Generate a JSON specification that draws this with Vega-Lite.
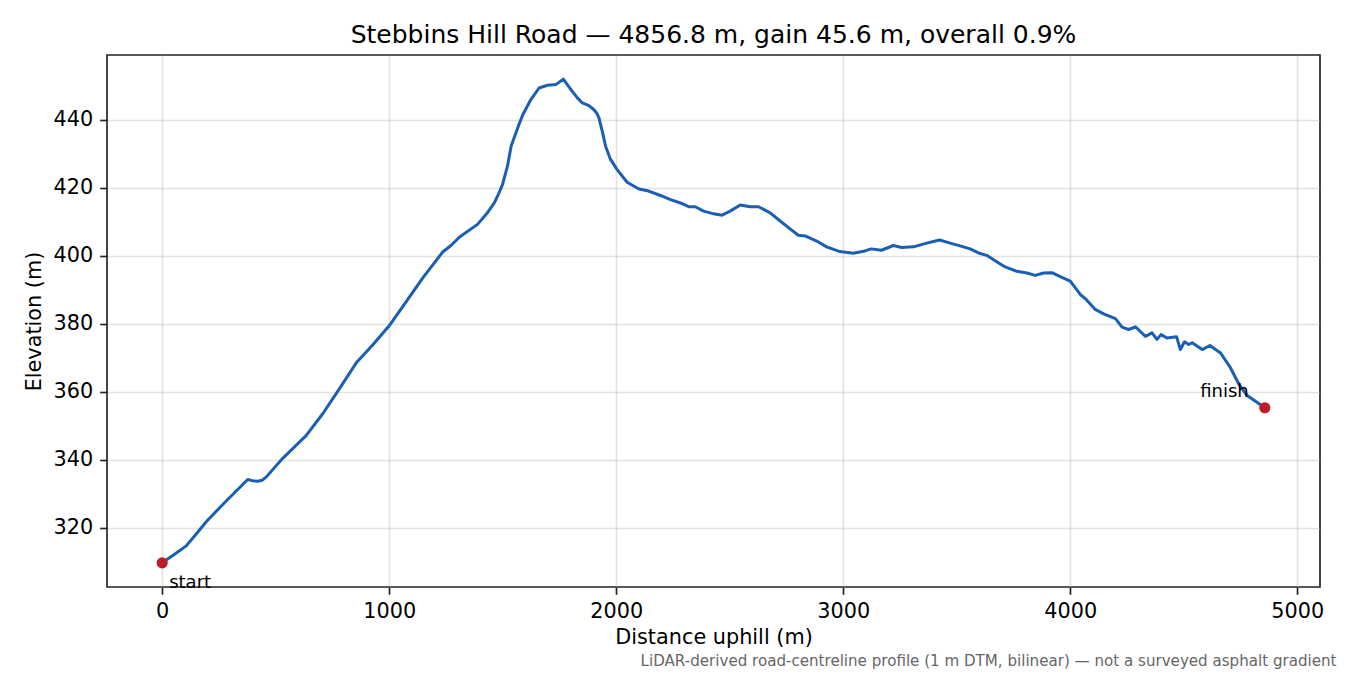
{
  "$schema": "https://vega.github.io/schema/vega-lite/v6.json",
  "width": 1213,
  "height": 532,
  "autosize": {"type": "none"},
  "padding": {"left": 107, "top": 55, "right": 30, "bottom": 88},
  "background": "white",
  "title": {
    "text": "Stebbins Hill Road — 4856.8 m, gain 45.6 m, overall 0.9%",
    "fontSize": 25,
    "fontWeight": "normal",
    "color": "#000000",
    "baseline": "alphabetic",
    "offset": 12,
    "dy": 25
  },
  "datasets": {
    "profile": [
      {"d": 0, "e": 309.7}, {"d": 50, "e": 312.0}, {"d": 106, "e": 314.7}, {"d": 150, "e": 318.2}, {"d": 194, "e": 321.8},
      {"d": 282, "e": 327.9}, {"d": 377, "e": 334.2}, {"d": 400, "e": 333.8}, {"d": 421, "e": 333.7},
      {"d": 440, "e": 334.0}, {"d": 458, "e": 334.9}, {"d": 532, "e": 340.5}, {"d": 634, "e": 347.1},
      {"d": 708, "e": 353.6}, {"d": 781, "e": 360.9}, {"d": 855, "e": 368.5}, {"d": 928, "e": 373.8},
      {"d": 1000, "e": 379.4}, {"d": 1075, "e": 386.5}, {"d": 1148, "e": 393.5}, {"d": 1236, "e": 401.1},
      {"d": 1272, "e": 403.0}, {"d": 1310, "e": 405.5}, {"d": 1389, "e": 409.2}, {"d": 1430, "e": 412.4},
      {"d": 1463, "e": 415.5}, {"d": 1482, "e": 418.2},
      {"d": 1499, "e": 420.9}, {"d": 1521, "e": 426.3}, {"d": 1537, "e": 432.2}, {"d": 1552, "e": 435.0},
      {"d": 1570, "e": 438.3}, {"d": 1589, "e": 441.5},
      {"d": 1624, "e": 445.9}, {"d": 1660, "e": 449.3}, {"d": 1697, "e": 450.1}, {"d": 1734, "e": 450.3},
      {"d": 1767, "e": 451.9}, {"d": 1799, "e": 449.0}, {"d": 1829, "e": 446.4}, {"d": 1851, "e": 444.9},
      {"d": 1880, "e": 444.1}, {"d": 1902, "e": 442.9}, {"d": 1914, "e": 441.9}, {"d": 1924, "e": 440.5},
      {"d": 1940, "e": 436.2}, {"d": 1953, "e": 432.2},
      {"d": 1975, "e": 428.3}, {"d": 2004, "e": 425.3}, {"d": 2048, "e": 421.6}, {"d": 2100, "e": 419.6},
      {"d": 2143, "e": 419.0}, {"d": 2195, "e": 417.7}, {"d": 2239, "e": 416.5}, {"d": 2283, "e": 415.5},
      {"d": 2319, "e": 414.4}, {"d": 2348, "e": 414.4}, {"d": 2385, "e": 413.1}, {"d": 2429, "e": 412.3},
      {"d": 2466, "e": 411.9}, {"d": 2502, "e": 413.1}, {"d": 2546, "e": 414.9}, {"d": 2590, "e": 414.4},
      {"d": 2627, "e": 414.4}, {"d": 2678, "e": 412.6}, {"d": 2722, "e": 410.2}, {"d": 2766, "e": 407.9},
      {"d": 2802, "e": 406.0}, {"d": 2832, "e": 405.8}, {"d": 2883, "e": 404.3}, {"d": 2927, "e": 402.6},
      {"d": 2985, "e": 401.2}, {"d": 3044, "e": 400.7}, {"d": 3095, "e": 401.4}, {"d": 3124, "e": 402.0},
      {"d": 3168, "e": 401.6}, {"d": 3221, "e": 403.0}, {"d": 3257, "e": 402.4}, {"d": 3309, "e": 402.6},
      {"d": 3368, "e": 403.7}, {"d": 3424, "e": 404.6}, {"d": 3471, "e": 403.7}, {"d": 3515, "e": 402.9},
      {"d": 3559, "e": 402.0}, {"d": 3596, "e": 400.8}, {"d": 3632, "e": 400.1}, {"d": 3669, "e": 398.5},
      {"d": 3713, "e": 396.7}, {"d": 3765, "e": 395.4}, {"d": 3809, "e": 394.9}, {"d": 3846, "e": 394.2},
      {"d": 3882, "e": 394.9}, {"d": 3919, "e": 395.0}, {"d": 3963, "e": 393.6}, {"d": 4000, "e": 392.5},
      {"d": 4044, "e": 388.6}, {"d": 4066, "e": 387.4}, {"d": 4110, "e": 384.2}, {"d": 4147, "e": 382.9},
      {"d": 4199, "e": 381.5}, {"d": 4228, "e": 379.0}, {"d": 4257, "e": 378.3}, {"d": 4287, "e": 379.1},
      {"d": 4331, "e": 376.3}, {"d": 4360, "e": 377.3}, {"d": 4382, "e": 375.4}, {"d": 4400, "e": 376.8},
      {"d": 4426, "e": 375.8}, {"d": 4468, "e": 376.2}, {"d": 4485, "e": 372.4}, {"d": 4503, "e": 374.7},
      {"d": 4522, "e": 373.9}, {"d": 4537, "e": 374.4}, {"d": 4581, "e": 372.4}, {"d": 4615, "e": 373.6},
      {"d": 4662, "e": 371.4}, {"d": 4706, "e": 367.0}, {"d": 4743, "e": 362.2}, {"d": 4779, "e": 358.9},
      {"d": 4856.8, "e": 355.3}
    ],
    "ends": [
      {"d": 0, "e": 309.7, "label": "start"},
      {"d": 4856.8, "e": 355.3, "label": "finish"}
    ]
  },
  "encoding": {
    "y": {
      "field": "e",
      "type": "quantitative",
      "title": "Elevation (m)",
      "scale": {"domain": [302.6, 459.0], "nice": false, "zero": false},
      "axis": {
        "values": [320, 340, 360, 380, 400, 420, 440],
        "titlePadding": 9
      }
    }
  },
  "layer": [
    {
      "data": {"name": "profile"},
      "mark": {"type": "line", "color": "#1a5fb4", "strokeWidth": 3, "strokeJoin": "round"},
      "encoding": {
        "x": {
          "field": "d",
          "type": "quantitative",
          "title": "Distance uphill (m)",
          "scale": {"domain": [-243, 5100], "nice": false, "zero": false},
          "axis": {
            "values": [0, 1000, 2000, 3000, 4000, 5000],
            "titlePadding": 6
          }
        }
      }
    },
    {
      "data": {"name": "ends"},
      "mark": {"type": "point", "filled": true, "color": "#c01c28", "size": 125, "opacity": 1},
      "encoding": {
        "x": {
          "field": "d",
          "type": "quantitative",
          "scale": {"domain": [-243, 5100], "nice": false, "zero": false},
          "axis": {
            "orient": "bottom",
            "title": "LiDAR-derived road-centreline profile (1 m DTM, bilinear) — not a surveyed asphalt gradient",
            "labels": false,
            "ticks": false,
            "grid": false,
            "domain": false,
            "titleAnchor": "end",
            "titleAlign": "right",
            "titleBaseline": "alphabetic",
            "titleX": 1229,
            "titleY": 78,
            "titleFontSize": 15.1,
            "titleColor": "#666666"
          }
        }
      }
    },
    {
      "data": {"name": "ends"},
      "transform": [{"filter": "datum.label === 'start'"}],
      "mark": {"type": "text", "align": "left", "baseline": "alphabetic", "dx": 7, "dy": 25, "fontSize": 18, "color": "#000000"},
      "encoding": {
        "x": {"field": "d", "type": "quantitative", "scale": {"domain": [-243, 5100], "nice": false, "zero": false}, "axis": null},
        "text": {"field": "label"}
      }
    },
    {
      "data": {"name": "ends"},
      "transform": [{"filter": "datum.label === 'finish'"}],
      "mark": {"type": "text", "align": "right", "baseline": "alphabetic", "dx": -16, "dy": -11, "fontSize": 18, "color": "#000000"},
      "encoding": {
        "x": {"field": "d", "type": "quantitative", "scale": {"domain": [-243, 5100], "nice": false, "zero": false}, "axis": null},
        "text": {"field": "label"}
      }
    }
  ],
  "resolve": {"axis": {"x": "independent"}},
  "config": {
    "font": "DejaVu Sans",
    "view": {"stroke": "#222222", "strokeWidth": 1.67},
    "axis": {
      "domain": false,
      "grid": true,
      "gridColor": "#b0b0b0",
      "gridOpacity": 0.35,
      "gridWidth": 1.67,
      "ticks": true,
      "tickColor": "#222222",
      "tickSize": 7.3,
      "tickWidth": 1.67,
      "labelPadding": 7,
      "labelFontSize": 20.8,
      "labelColor": "#000000",
      "labelFlush": false,
      "labelOverlap": false,
      "titleFontSize": 20.8,
      "titleFontWeight": "normal",
      "titleColor": "#000000",
      "format": "d"
    }
  }
}
